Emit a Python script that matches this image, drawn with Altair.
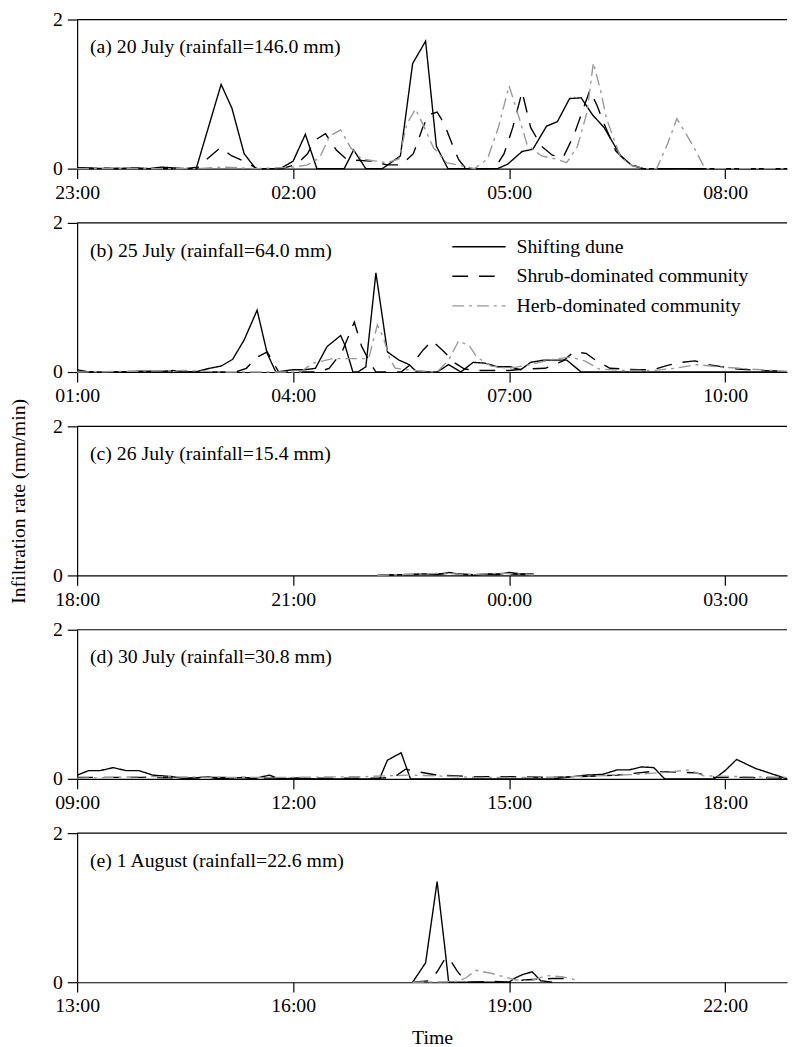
import altair as alt
import pandas as pd

FONT = "Liberation Serif"
SERIES = ["Shifting dune", "Shrub-dominated community", "Herb-dominated community"]
COLORS = ["#000000", "#000000", "#999999"]
DASHES = [[1, 0], [16, 11], [12, 5, 3, 5]]

# x values are hours since the panel's first tick; y values in mm/min

# (a) 20 July, starts 23:00
a_sd_t = [0, 0.5, 0.83, 1.0, 1.17, 1.5, 1.66, 2.0, 2.15, 2.32, 2.48, 2.82, 3.0, 3.17, 3.33, 3.71, 3.84, 4.01, 4.24,
          4.49, 4.66, 4.84, 4.99, 5.15, 5.84, 5.98, 6.18, 6.33, 6.52, 6.67, 6.84, 7.0, 7.16, 7.32, 7.55, 7.71, 7.87, 9.86]
a_sd_v = [0.01, 0.0, 0.01, 0.0, 0.02, 0.0, 0.02, 1.13, 0.81, 0.2, 0.0, 0.0, 0.1, 0.46, 0.0, 0.0, 0.25, 0.0, 0.0,
          0.17, 1.41, 1.71, 0.3, 0.0, 0.0, 0.06, 0.23, 0.26, 0.57, 0.63, 0.94, 0.95, 0.72, 0.55, 0.17, 0.04, 0.0, 0.0]
a_sh_t = [0, 0.8, 1.66, 1.83, 1.99, 2.15, 2.32, 2.5, 2.85, 3.05, 3.2, 3.3, 3.45, 3.6, 3.75, 4.1, 4.3, 4.5, 4.67,
          4.8, 4.88, 5.0, 5.1, 5.2, 5.3, 5.4, 5.8, 5.93, 6.05, 6.18, 6.3, 6.45, 6.6, 6.75, 6.9, 7.0, 7.12, 7.22,
          7.32, 7.48, 7.65, 7.85, 9.86]
a_sh_v = [0.01, 0.0, 0.0, 0.15, 0.28, 0.17, 0.1, 0.0, 0.0, 0.06, 0.2, 0.38, 0.47, 0.25, 0.12, 0.1, 0.05, 0.05, 0.2,
          0.55, 0.72, 0.76, 0.6, 0.35, 0.12, 0.0, 0.0, 0.2, 0.55, 1.03, 0.55, 0.3, 0.18, 0.15, 0.45, 0.72, 1.05, 0.85,
          0.6, 0.24, 0.08, 0.0, 0.0]
a_hb_t = [0, 1.66, 2.0, 2.5, 3.0, 3.2, 3.37, 3.51, 3.66, 3.8, 3.95, 4.15, 4.3, 4.47, 4.58, 4.7, 4.8, 4.95, 5.13,
          5.38, 5.52, 5.7, 5.85, 6.0, 6.14, 6.25, 6.45, 6.65, 6.8, 6.95, 7.08, 7.17, 7.27, 7.35, 7.45, 7.55, 7.71,
          7.9, 8.05, 8.2, 8.33, 8.45, 8.57, 8.72, 9.86]
a_hb_v = [0.0, 0.0, 0.02, 0.0, 0.02, 0.05, 0.15, 0.44, 0.52, 0.28, 0.13, 0.1, 0.08, 0.13, 0.6, 0.8, 0.6, 0.28, 0.08,
          0.03, 0.0, 0.13, 0.55, 1.11, 0.68, 0.32, 0.17, 0.13, 0.08, 0.3, 0.75, 1.42, 1.05, 0.68, 0.41, 0.15, 0.04,
          0.0, 0.0, 0.33, 0.67, 0.48, 0.28, 0.0, 0.0]

# (b) 25 July, starts 01:00
b_sd_t = [0, 0.17, 0.5, 0.83, 1.17, 1.33, 1.5, 1.68, 1.84, 2.0, 2.16, 2.32, 2.5, 2.64, 2.76, 2.99, 3.15, 3.31, 3.47,
          3.66, 3.72, 3.83, 3.9, 4.01, 4.15, 4.31, 4.47, 4.61, 4.72, 5.0, 5.16, 5.33, 5.5, 5.66, 5.84, 6.02, 6.16,
          6.3, 6.48, 6.8, 7.0, 9.86]
b_sd_v = [0.03, 0.0, 0.0, 0.01, 0.01, 0.02, 0.0, 0.01, 0.05, 0.08, 0.17, 0.43, 0.83, 0.25, 0.0, 0.03, 0.03, 0.05, 0.34,
          0.49, 0.36, 0.0, 0.0, 0.07, 1.33, 0.27, 0.16, 0.1, 0.0, 0.0, 0.1, 0.0, 0.13, 0.12, 0.07, 0.07, 0.03,
          0.13, 0.16, 0.16, 0.0, 0.0]
b_sh_t = [0, 2.2, 2.35, 2.5, 2.64, 2.8, 3.35, 3.5, 3.68, 3.85, 3.95, 4.06, 4.15, 4.5, 4.68, 4.81, 4.93, 5.1, 5.25,
          5.38, 5.6, 6.0, 6.2, 6.5, 6.75, 6.9, 7.07, 7.2, 7.4, 7.8, 8.0, 8.2, 8.4, 8.58, 8.76, 8.97, 9.17, 9.5, 9.86]
b_sh_v = [0.0, 0.0, 0.05, 0.2, 0.27, 0.0, 0.0, 0.05, 0.27, 0.67, 0.35, 0.14, 0.0, 0.0, 0.14, 0.3, 0.42, 0.27, 0.12,
          0.04, 0.02, 0.02, 0.04, 0.05, 0.15, 0.27, 0.25, 0.16, 0.05, 0.03, 0.03, 0.09, 0.13, 0.15, 0.1, 0.07,
          0.04, 0.02, 0.01]
b_hb_t = [0, 1.5, 2.0, 3.1, 3.28, 3.42, 3.55, 4.05, 4.12, 4.17, 4.25, 4.35, 4.42, 4.7, 5.0, 5.16, 5.3, 5.45, 5.55,
          5.75, 6.0, 6.3, 6.6, 6.85, 7.05, 7.25, 7.6, 8.0, 8.3, 8.6, 8.9, 9.2, 9.5, 9.86]
b_hb_v = [0.0, 0.02, 0.0, 0.0, 0.12, 0.15, 0.18, 0.18, 0.45, 0.63, 0.47, 0.16, 0.05, 0.02, 0.0, 0.16, 0.42, 0.35,
          0.2, 0.08, 0.05, 0.1, 0.17, 0.2, 0.15, 0.04, 0.02, 0.02, 0.05, 0.1, 0.07, 0.05, 0.03, 0.01]

# (c) 26 July, starts 18:00
c_sd_t = [4.17, 4.5, 4.83, 5.0, 5.17, 5.33, 5.5, 5.67, 5.83, 6.0, 6.17, 6.34]
c_sd_v = [0.0, 0.01, 0.02, 0.01, 0.04, 0.01, 0.0, 0.02, 0.01, 0.04, 0.02, 0.02]
c_sh_t = [4.17, 4.6, 5.0, 5.2, 5.5, 5.8, 6.0, 6.34]
c_sh_v = [0.0, 0.01, 0.02, 0.03, 0.01, 0.02, 0.02, 0.01]
c_hb_t = [4.17, 4.5, 5.1, 5.4, 5.9, 6.34]
c_hb_v = [0.0, 0.01, 0.03, 0.01, 0.03, 0.01]

# (d) 30 July, starts 09:00
d_sd_t = [0, 0.16, 0.32, 0.5, 0.68, 0.86, 1.05, 1.32, 1.5, 1.82, 1.95, 2.32, 2.45, 2.67, 2.8, 3.14, 3.3, 4.2, 4.31,
          4.5, 4.63, 6.62, 7.07, 7.3, 7.5, 7.67, 7.84, 8.01, 8.16, 8.85, 9.0, 9.16, 9.42, 9.86]
d_sd_v = [0.05, 0.11, 0.11, 0.15, 0.11, 0.11, 0.05, 0.03, 0.0, 0.03, 0.0, 0.02, 0.0, 0.05, 0.0, 0.01, 0.0, 0.0, 0.25,
          0.35, 0.0, 0.0, 0.05, 0.06, 0.12, 0.12, 0.16, 0.15, 0.0, 0.0, 0.11, 0.26, 0.14, 0.0]
d_sh_t = [0, 1.0, 1.5, 2.0, 2.5, 3.0, 4.2, 4.4, 4.56, 4.7, 5.0, 5.5, 6.0, 6.5, 7.0, 7.5, 8.0, 8.3, 8.6, 8.85, 9.2,
          9.86]
d_sh_v = [0.02, 0.02, 0.01, 0.02, 0.01, 0.01, 0.01, 0.02, 0.13, 0.1, 0.05, 0.03, 0.03, 0.02, 0.03, 0.05, 0.1, 0.09,
          0.08, 0.02, 0.02, 0.01]
d_hb_t = [0, 1.0, 2.0, 3.0, 4.0, 4.6, 5.0, 5.5, 6.5, 7.2, 7.8, 8.3, 8.5, 8.7, 9.2, 9.86]
d_hb_v = [0.01, 0.03, 0.02, 0.02, 0.03, 0.05, 0.04, 0.02, 0.02, 0.04, 0.06, 0.1, 0.12, 0.04, 0.03, 0.02]

# (e) 1 August, starts 13:00
e_sd_t = [4.66, 4.84, 5.0, 5.11, 5.16, 6.0, 6.07, 6.18, 6.32, 6.44, 6.6]
e_sd_v = [0.0, 0.26, 1.35, 0.44, 0.0, 0.0, 0.05, 0.1, 0.14, 0.02, 0.0]
e_sh_t = [4.66, 4.9, 5.0, 5.1, 5.16, 5.28, 5.4, 5.8, 6.0, 6.2, 6.4, 6.6, 6.8, 6.9]
e_sh_v = [0.0, 0.02, 0.14, 0.3, 0.33, 0.15, 0.0, 0.01, 0.0, 0.03, 0.04, 0.05, 0.05, 0.02]
e_hb_t = [4.66, 5.3, 5.4, 5.54, 5.75, 5.9, 6.1, 6.3, 6.52, 6.75, 6.98]
e_hb_v = [0.0, 0.01, 0.06, 0.16, 0.12, 0.08, 0.03, 0.02, 0.09, 0.07, 0.02]

panel_labels = ["(a) 20 July (rainfall=146.0 mm)", "(b) 25 July (rainfall=64.0 mm)",
                "(c) 26 July (rainfall=15.4 mm)", "(d) 30 July (rainfall=30.8 mm)",
                "(e) 1 August (rainfall=22.6 mm)"]
panel_start_hours = [23, 1, 18, 9, 13]
panel_series = [
    [(a_sd_t, a_sd_v), (a_sh_t, a_sh_v), (a_hb_t, a_hb_v)],
    [(b_sd_t, b_sd_v), (b_sh_t, b_sh_v), (b_hb_t, b_hb_v)],
    [(c_sd_t, c_sd_v), (c_sh_t, c_sh_v), (c_hb_t, c_hb_v)],
    [(d_sd_t, d_sd_v), (d_sh_t, d_sh_v), (d_hb_t, d_hb_v)],
    [(e_sd_t, e_sd_v), (e_sh_t, e_sh_v), (e_hb_t, e_hb_v)],
]
x_ticks = [0, 3, 6, 9]
x_max = 9.86
y_ticks = [0, 1, 2]

W, H = 719, 151


def make_df(sdata):
    rows = []
    for k, (name, (tt, vv)) in enumerate(zip(SERIES, sdata)):
        for t, v in zip(tt, vv):
            rows.append({"t": t, "v": v, "series": name})
    return pd.DataFrame(rows)


charts = []
for i, (label, start, sdata) in enumerate(zip(panel_labels, panel_start_hours, panel_series)):
    df = make_df(sdata)
    expr = (f"((({start} + datum.value) % 24) < 10 ? '0' : '') + "
            f"(({start} + datum.value) % 24) + ':00'")
    xaxis_kw = dict(values=x_ticks, labelExpr=expr, tickSize=10, labelPadding=4, labelFlush=False,
                    labelOverlap=False, grid=False, domainColor="black", tickColor="black",
                    labelColor="black", labelFont=FONT, labelFontSize=20, domainWidth=1.2, tickWidth=1.2)
    if i == 4:
        xaxis = alt.Axis(title="Time", titleFont=FONT, titleFontSize=20, titleFontWeight="normal",
                         titleColor="black", titlePadding=12, **xaxis_kw)
    else:
        xaxis = alt.Axis(title=None, **xaxis_kw)
    yaxis_kw = dict(values=y_ticks, format="d", tickSize=10, labelPadding=5, labelFlush=False,
                    labelOverlap=False, grid=False, domainColor="black", tickColor="black",
                    labelColor="black", labelFont=FONT, labelFontSize=20, domainWidth=1.2, tickWidth=1.2)
    if i == 2:
        yaxis = alt.Axis(title="Infiltration rate (mm/min)", titleFont=FONT, titleFontSize=20,
                         titleFontWeight="normal", titleColor="black", titleAngle=270,
                         titleX=-59, titleY=H / 2, titleBaseline="middle", titleAlign="center",
                         **yaxis_kw)
    else:
        yaxis = alt.Axis(title=None, **yaxis_kw)

    if i == 1:
        leg = alt.Legend(title=None, orient="none", legendX=379, legendY=9, symbolType="stroke",
                         symbolSize=2916, symbolStrokeWidth=1.5, clipHeight=30, labelOffset=10,
                         rowPadding=0, padding=0, labelFont=FONT, labelFontSize=20, labelColor="black",
                         labelLimit=400)
    else:
        leg = None

    yscale = alt.Scale(domain=[0, 2], nice=False)
    lines = alt.Chart(df).mark_line(strokeWidth=1.4).encode(
        x=alt.X("t:Q", scale=alt.Scale(domain=[0, x_max], nice=False, zero=False), axis=xaxis),
        y=alt.Y("v:Q", scale=yscale, axis=yaxis),
        color=alt.Color("series:N", scale=alt.Scale(domain=SERIES, range=COLORS), legend=leg),
        strokeDash=alt.StrokeDash("series:N", scale=alt.Scale(domain=SERIES, range=DASHES), legend=leg),
        order=alt.Order("t:Q"),
    )
    top = alt.Chart(pd.DataFrame({"v": [2]})).mark_rule(color="black", strokeWidth=1.2).encode(
        y=alt.Y("v:Q", scale=yscale, axis=yaxis)
    )
    text = alt.Chart(pd.DataFrame({"label": [label]})).mark_text(
        align="left", baseline="middle", font=FONT, fontSize=20, color="black"
    ).encode(text="label:N", x=alt.value(13), y=alt.value(28))
    charts.append(alt.layer(lines, top, text).properties(width=W, height=H))

chart = alt.vconcat(*charts, spacing=55, bounds="flush").resolve_scale(
    x="independent", y="independent", color="independent", strokeDash="independent"
).resolve_axis(x="independent", y="independent").resolve_legend(
    color="independent", strokeDash="independent"
).properties(
    padding={"left": 0, "top": -5, "right": 0, "bottom": 0}
).configure_view(stroke=None)

chart.save("out.html", embed_options={"renderer": "svg", "actions": False})
